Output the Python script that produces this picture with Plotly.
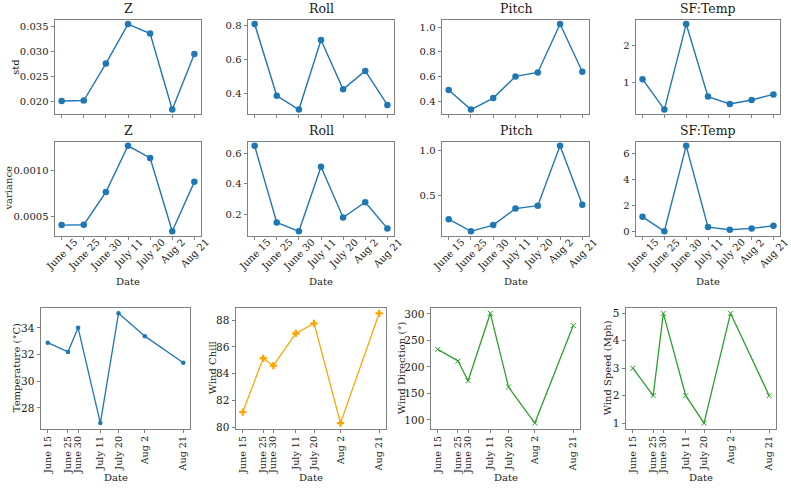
import plotly.graph_objects as go
import pandas as pd

# ---------------- data ----------------
cats = ["June 15", "June 25", "June 30", "July 11", "July 20", "Aug 2", "Aug 21"]
dates = ["2023-06-15", "2023-06-25", "2023-06-30", "2023-07-11",
         "2023-07-20", "2023-08-02", "2023-08-21"]

std_z = [0.0200, 0.0201, 0.0275, 0.0354, 0.0335, 0.0183, 0.0294]
std_roll = [0.806, 0.385, 0.304, 0.713, 0.423, 0.531, 0.331]
std_pitch = [0.490, 0.331, 0.424, 0.600, 0.632, 1.024, 0.637]
std_sf = [1.08, 0.26, 2.57, 0.61, 0.41, 0.52, 0.67]

var_z = [0.000404, 0.000408, 0.000762, 0.001262, 0.001131, 0.000337, 0.000872]
var_roll = [0.649, 0.149, 0.091, 0.512, 0.181, 0.281, 0.110]
var_pitch = [0.243, 0.109, 0.178, 0.359, 0.391, 1.051, 0.402]
var_sf = [1.15, 0.05, 6.55, 0.37, 0.17, 0.27, 0.47]

temperature = [32.89, 32.2, 34.0, 26.86, 35.09, 33.38, 31.38]
wind_chill = [81.14, 85.15, 84.6, 87.0, 87.75, 80.32, 88.5]
wind_direction = [233, 211, 174, 301, 162, 94, 278]
wind_speed = [3, 2, 5, 2, 1, 5, 2]

titles = ["Z", "Roll", "Pitch", "SF:Temp"]

# ---------------- layout helpers ----------------
W, H = 791, 490
FONT = "DejaVu Serif"
TXT = "#1a1a1a"
SPINE = "#808080"
BLUE = "#1f77b4"


def fx(p):
    return p / W


def fy(p):
    return 1 - p / H


def yrange(v):
    lo, hi = min(v), max(v)
    m = (hi - lo) * 0.05
    return [lo - m, hi + m]


fig = go.Figure()
layout = {}
annotations = []

top_cols = [(55, 201), (248, 394), (442, 589), (636, 780)]
row1 = (19, 114)
row2 = (142, 237)
bot_cols = [(41, 190), (236, 386), (431, 580), (626, 776)]
row3 = (310, 432)

std_data = [std_z, std_roll, std_pitch, std_sf]
std_fmt = [(0.005, ".3f"), (0.2, ".1f"), (0.2, ".1f"), (1, "d")]
var_data = [var_z, var_roll, var_pitch, var_sf]
var_fmt = [(0.0005, ".4f"), (0.2, ".1f"), (0.5, ".1f"), (2, "d")]

n = 0
for r, (data, fmts, rowpx) in enumerate([(std_data, std_fmt, row1), (var_data, var_fmt, row2)]):
    for c in range(4):
        n += 1
        xa = "x" if n == 1 else f"x{n}"
        ya = "y" if n == 1 else f"y{n}"
        fig.add_trace(go.Scatter(
            x=cats, y=data[c], mode="lines+markers", xaxis=xa, yaxis=ya,
            line=dict(color=BLUE, width=1.4),
            marker=dict(color=BLUE, size=6.5, symbol="circle"),
            showlegend=False))
        dt, fmt = fmts[c]
        layout[f"xaxis{n}"] = dict(
            domain=[fx(top_cols[c][0]), fx(top_cols[c][1])], anchor=ya,
            type="category", range=[-0.3, 6.3], showticklabels=False,
            ticks="outside", ticklen=3.5, tickcolor=SPINE, tickwidth=1,
            showline=True, mirror=True, linecolor=SPINE, linewidth=1,
            showgrid=False, zeroline=False)
        layout[f"yaxis{n}"] = dict(
            domain=[fy(rowpx[1]), fy(rowpx[0])], anchor=xa,
            range=yrange(data[c]), dtick=dt, tick0=0, tickformat=fmt,
            ticks="outside", ticklen=3.5, tickcolor=SPINE, tickwidth=1,
            tickfont=dict(family=FONT, size=10, color=TXT),
            showline=True, mirror=True, linecolor=SPINE, linewidth=1,
            showgrid=False, zeroline=False)
        annotations.append(dict(
            text=titles[c], xref="paper", yref="paper",
            x=fx((top_cols[c][0] + top_cols[c][1]) / 2), y=fy(rowpx[0] - 2),
            xanchor="center", yanchor="bottom", showarrow=False,
            font=dict(family=FONT, size=12.5, color=TXT)))
        if r == 1:
            for cat in cats:
                annotations.append(dict(
                    text=cat, xref=xa, yref=f"{ya} domain", x=cat, y=0,
                    xanchor="center", yanchor="top", yshift=2,
                    textangle=-45, showarrow=False,
                    font=dict(family=FONT, size=10, color=TXT)))
            annotations.append(dict(
                text="Date", xref="paper", yref="paper",
                x=fx((top_cols[c][0] + top_cols[c][1]) / 2), y=fy(283),
                xanchor="center", yanchor="middle", showarrow=False,
                font=dict(family=FONT, size=10, color=TXT)))

annotations.append(dict(text="std", xref="paper", yref="paper", x=fx(16),
                        y=fy((row1[0] + row1[1]) / 2), textangle=-90,
                        xanchor="center", yanchor="middle", showarrow=False,
                        font=dict(family=FONT, size=10, color=TXT)))
annotations.append(dict(text="variance", xref="paper", yref="paper", x=fx(9),
                        y=fy((row2[0] + row2[1]) / 2), textangle=-90,
                        xanchor="center", yanchor="middle", showarrow=False,
                        font=dict(family=FONT, size=10, color=TXT)))

# ---------------- bottom row ----------------
dts = pd.to_datetime(dates)
span = (dts[-1] - dts[0]) * 0.05
xr = [(dts[0] - span).isoformat(), (dts[-1] + span).isoformat()]

GREEN = "#2ca02c"
bottom = [
    (temperature, BLUE, dict(symbol="circle", size=4.5), 2, "Temperature (°C)", 16),
    (wind_chill, "#ffa500", dict(symbol="cross", size=6), 2, "Wind Chill", 212),
    (wind_direction, GREEN, dict(symbol="x-thin-open", size=5, line=dict(width=1, color=GREEN)), 50, "Wind Direction (°)", 401),
    (wind_speed, GREEN, dict(symbol="x-thin-open", size=5, line=dict(width=1, color=GREEN)), 1, "Wind Speed (Mph)", 607),
]
for c, (vals, col, mk, dt, ylab, labx) in enumerate(bottom):
    n += 1
    xa, ya = f"x{n}", f"y{n}"
    fig.add_trace(go.Scatter(
        x=dts, y=vals, mode="lines+markers", xaxis=xa, yaxis=ya,
        line=dict(color=col, width=1.3),
        marker=dict(color=col, **mk), showlegend=False))
    layout[f"xaxis{n}"] = dict(
        domain=[fx(bot_cols[c][0]), fx(bot_cols[c][1])], anchor=ya,
        type="date", range=xr, tickmode="array", tickvals=dts, ticktext=cats,
        tickangle=-90, tickfont=dict(family=FONT, size=9.6, color=TXT),
        ticklabelstandoff=-1,
        ticks="outside", ticklen=3.5, tickcolor=SPINE, tickwidth=1,
        showline=True, mirror=True, linecolor=SPINE, linewidth=1,
        showgrid=False, zeroline=False)
    layout[f"yaxis{n}"] = dict(
        domain=[fy(row3[1]), fy(row3[0])], anchor=xa,
        range=yrange(vals), dtick=dt, tick0=0,
        ticks="outside", ticklen=3.5, tickcolor=SPINE, tickwidth=1,
        tickfont=dict(family=FONT, size=10.5, color=TXT),
        showline=True, mirror=True, linecolor=SPINE, linewidth=1,
        showgrid=False, zeroline=False)
    annotations.append(dict(
        text="Date", xref="paper", yref="paper",
        x=fx((bot_cols[c][0] + bot_cols[c][1]) / 2), y=fy(481),
        xanchor="center", yanchor="middle", showarrow=False,
        font=dict(family=FONT, size=10, color=TXT)))
    annotations.append(dict(
        text=ylab, xref="paper", yref="paper", x=fx(labx),
        y=fy((row3[0] + row3[1]) / 2), textangle=-90,
        xanchor="center", yanchor="middle", showarrow=False,
        font=dict(family=FONT, size=10, color=TXT)))

fig.update_layout(
    width=W, height=H, margin=dict(l=0, r=0, t=0, b=0),
    paper_bgcolor="white", plot_bgcolor="white",
    font=dict(family=FONT, size=10, color=TXT),
    annotations=annotations, **layout)

fig.write_html("out.html")
